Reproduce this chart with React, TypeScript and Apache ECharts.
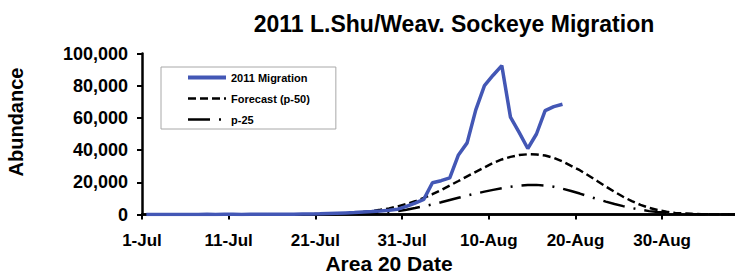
import React, { useEffect, useRef } from 'react';
import * as echarts from 'echarts';

// Tick labels for the date axis (day 0 = 1-Jul, every 10 days)
const xTickLabels = ['1-Jul', '11-Jul', '21-Jul', '31-Jul', '10-Aug', '20-Aug', '30-Aug'];

// Daily values, index = days since 1-Jul
const migration2011 = [
  0, 0, 0, 0, 50, 0, 50, 100, 50, 100,
  100, 50, 150, 100, 150, 200, 150, 200, 250, 300,
  400, 600, 800, 1000, 1200, 1500, 1800, 2200, 2700, 3300,
  5000, 7100, 9400, 19700, 21000, 22800, 37000, 44500, 65000, 80000,
  86500, 92500, 60500, 51000, 41000, 50000, 64500, 67000, 68500,
];

const forecastP50 = [
  0, 0, 0, 0, 0, 0, 0, 0, 0, 0,
  0, 0, 0, 20, 30, 50, 80, 120, 170, 230,
  300, 400, 600, 800, 1100, 1500, 2100, 2900, 3800, 5000,
  6500, 8200, 10300, 12600, 15200, 18000, 20800, 23700, 26500, 29200,
  32000, 34200, 35800, 36900, 37400, 37300, 36600, 35200, 33000, 30200,
  27500, 24200, 20800, 17400, 14100, 11000, 8300, 6000, 4100, 2700,
  1700, 1000, 600, 350, 200, 120, 70, 40, 20,
];

const forecastP25 = [
  0, 0, 0, 0, 0, 0, 0, 0, 0, 0,
  0, 0, 0, 0, 0, 20, 30, 45, 60, 80,
  100, 150, 220, 300, 400, 500, 800, 1100, 1600, 2200,
  3000, 4000, 5100, 6300, 7600, 9000, 10400, 11800, 13000, 14200,
  15300, 16300, 17200, 17900, 18300, 18400, 18000, 17200, 16000, 14600,
  13000, 11300, 9600, 8000, 6500, 5200, 4000, 3000, 2100, 1500,
  1000, 650, 400, 250, 150, 90, 50, 30, 15,
];

const seriesNames = ['2011 Migration', 'Forecast (p-50)', 'p-25'];

const FONT = '"Liberation Sans", Arial, sans-serif';

// points sit at the middle of each day slot
const toPoints = (arr: number[]) => arr.map((v, i) => [i + 0.5, v]);

export default function App() {
  const ref = useRef<HTMLDivElement>(null);

  useEffect(() => {
    if (!ref.current) return;
    const chart = echarts.init(ref.current, undefined, { renderer: 'svg' });
    const axisLineStyle = { color: '#000', width: 2.5 };
    const option: any = {
      animation: false,
      backgroundColor: '#fff',
      grid: { left: 142, right: 0, top: 53.5, bottom: 63.5 },
      xAxis: [
        {
          type: 'value',
          min: 0,
          max: 68.4,
          interval: 10,
          axisLine: { show: true, onZero: false, lineStyle: axisLineStyle },
          axisTick: { show: true, length: 5, lineStyle: { color: '#000', width: 2 } },
          axisLabel: {
            margin: 17,
            fontSize: 17,
            fontWeight: 'bold',
            fontFamily: FONT,
            color: '#000',
            showMaxLabel: false,
            formatter: (v: number) => (v % 10 === 0 ? xTickLabels[v / 10] ?? '' : ''),
          },
          splitLine: { show: false },
        },
        {
          type: 'value',
          position: 'top',
          min: 0,
          max: 68.4,
          axisLine: { show: true, lineStyle: axisLineStyle },
          axisTick: { show: false },
          axisLabel: { show: false },
          splitLine: { show: false },
        },
      ],
      yAxis: {
        type: 'value',
        min: 0,
        max: 100000,
        interval: 20000,
        axisLine: { show: true, lineStyle: axisLineStyle },
        axisTick: { show: true, length: 5, lineStyle: { color: '#000', width: 2 } },
        axisLabel: {
          margin: 14,
          fontSize: 18,
          fontWeight: 'bold',
          fontFamily: FONT,
          color: '#000',
          formatter: (v: number) => v.toLocaleString('en-US'),
        },
        splitLine: { show: false },
      },
      legend: {
        orient: 'vertical',
        left: 161,
        top: 67,
        padding: [5, 26, 4, 25],
        itemWidth: 38,
        itemHeight: 12,
        itemGap: 10,
        backgroundColor: '#fff',
        borderColor: '#a8a8a8',
        borderWidth: 1,
        itemStyle: { opacity: 0 },
        textStyle: { fontSize: 11, fontWeight: 'bold', fontFamily: FONT, color: '#000' },
        data: [
          { name: seriesNames[0], lineStyle: { width: 4 } },
          { name: seriesNames[1], lineStyle: { width: 2.5 } },
          { name: seriesNames[2], lineStyle: { width: 2.5 } },
        ],
      },
      graphic: [
        {
          type: 'text',
          x: 454,
          y: 24,
          style: {
            text: '2011 L.Shu/Weav. Sockeye Migration',
            font: `bold 23px ${FONT}`,
            fill: '#000',
            textAlign: 'center',
            verticalAlign: 'middle',
            textVerticalAlign: 'middle',
          },
        },
        {
          type: 'text',
          x: 16,
          y: 122,
          rotation: Math.PI / 2,
          style: {
            text: 'Abundance',
            font: `bold 20px ${FONT}`,
            fill: '#000',
            textAlign: 'center',
            verticalAlign: 'middle',
            textVerticalAlign: 'middle',
          },
        },
        {
          type: 'text',
          x: 389,
          y: 263,
          style: {
            text: 'Area 20 Date',
            font: `bold 21px ${FONT}`,
            fill: '#000',
            textAlign: 'center',
            verticalAlign: 'middle',
            textVerticalAlign: 'middle',
          },
        },
      ],
      series: [
        {
          name: seriesNames[2],
          type: 'line',
          data: toPoints(forecastP25),
          symbol: 'none',
          lineStyle: { color: '#000', width: 2.5, type: [22, 9, 2, 9] },
          itemStyle: { color: '#000' },
          z: 2,
        },
        {
          name: seriesNames[1],
          type: 'line',
          data: toPoints(forecastP50),
          symbol: 'none',
          lineStyle: { color: '#000', width: 2.5, type: [8, 4] },
          itemStyle: { color: '#000' },
          z: 3,
        },
        {
          name: seriesNames[0],
          type: 'line',
          data: toPoints(migration2011),
          symbol: 'none',
          lineStyle: { color: '#4357B5', width: 3.5 },
          itemStyle: { color: '#4357B5' },
          z: 4,
        },
      ],
    };
    chart.setOption(option);
    return () => chart.dispose();
  }, []);

  return (
    <div
      ref={ref}
      style={{ position: 'fixed', left: 0, top: 0, width: 735, height: 278 }}
    />
  );
}
